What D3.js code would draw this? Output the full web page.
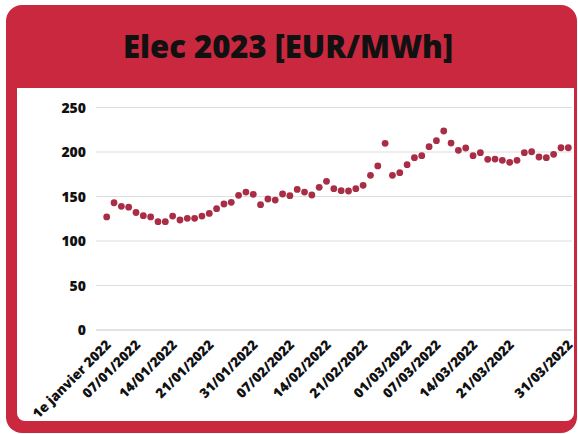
<!DOCTYPE html>
<html><head><meta charset="utf-8">
<script src="https://cdn.jsdelivr.net/npm/d3@7"></script>
<style>
html,body{margin:0;padding:0;background:#fff;}
svg{display:block;}
</style></head>
<body>
<svg id="chart" width="578" height="434"></svg>
<script>
const title = "Elec 2023 [EUR/MWh]";
const dates = [
 "2022-01-03","2022-01-04","2022-01-05","2022-01-06","2022-01-07",
 "2022-01-10","2022-01-11","2022-01-12","2022-01-13","2022-01-14",
 "2022-01-17","2022-01-18","2022-01-19","2022-01-20","2022-01-21",
 "2022-01-24","2022-01-25","2022-01-26","2022-01-27","2022-01-28",
 "2022-01-31","2022-02-01","2022-02-02","2022-02-03","2022-02-04",
 "2022-02-07","2022-02-08","2022-02-09","2022-02-10","2022-02-11",
 "2022-02-14","2022-02-15","2022-02-16","2022-02-17","2022-02-18",
 "2022-02-21","2022-02-22","2022-02-23","2022-02-24","2022-02-25",
 "2022-02-28","2022-03-01","2022-03-02","2022-03-03","2022-03-04",
 "2022-03-07","2022-03-08","2022-03-09","2022-03-10","2022-03-11",
 "2022-03-14","2022-03-15","2022-03-16","2022-03-17","2022-03-18",
 "2022-03-21","2022-03-22","2022-03-23","2022-03-24","2022-03-25",
 "2022-03-28","2022-03-29","2022-03-30","2022-03-31"
];
const prices = [
 127,143,139,138,132,
 128.5,127,121.7,121.7,128,
 123.6,125.5,125.5,128,131,
 136.3,141.6,143.4,151.3,155,
 152.4,140.8,147.2,146,152.8,
 150.9,158,155,151.7,160.3,
 167,158.8,156.6,156.2,158.8,
 162.6,173.8,184.3,209.8,173.8,
 176.8,185.8,193.6,195.9,206,
 212.7,223.6,210,201.9,204.5,
 195.9,199.2,191.8,192.1,190.6,
 188.4,190.6,199.2,200.3,194.4,
 193.6,197.4,204.8,204.8
];
const tickDates = ["2022-01-03","2022-01-07","2022-01-14","2022-01-21","2022-01-31","2022-02-07","2022-02-14","2022-02-21","2022-03-01","2022-03-07","2022-03-14","2022-03-21","2022-03-31"];
const tickLabels = ["1e janvier 2022","07/01/2022","14/01/2022","21/01/2022","31/01/2022","07/02/2022","14/02/2022","21/02/2022","01/03/2022","07/03/2022","14/03/2022","21/03/2022","31/03/2022"];
const yTicks = [0,50,100,150,200,250];

const svg = d3.select("#chart");
const RED = "#c9283f";

// outer red card
svg.append("rect").attr("x",6).attr("y",5).attr("width",571).attr("height",428)
  .attr("rx",16).attr("fill",RED);
// inner white panel
svg.append("rect").attr("x",17).attr("y",88).attr("width",557).attr("height",333)
  .attr("rx",8).attr("fill","#fff");
svg.append("rect").attr("x",17).attr("y",88).attr("width",557).attr("height",20)
  .attr("fill","#fff");

svg.append("text").attr("x",288).attr("y",58).attr("text-anchor","middle")
  .attr("font-family","Open Sans").attr("font-weight",800).attr("font-size",31)
  .attr("fill","#111").text(title);

const x = d3.scalePoint().domain(dates).range([106.7,568.3]);
const y = d3.scaleLinear().domain([0,250]).range([330,107.5]);

// grid
const grid = svg.append("g");
grid.selectAll("line").data(yTicks).join("line")
  .attr("x1",96).attr("x2",572)
  .attr("y1",d=>y(d)).attr("y2",d=>y(d))
  .attr("stroke",d=>d===0?"#c8c8c8":"#dedede").attr("stroke-width",1.2);

// y axis labels
const yAxis = d3.axisLeft(y).tickValues(yTicks).tickSize(0).tickPadding(0);
const gy = svg.append("g").attr("transform","translate(86,0)").call(yAxis);
gy.select(".domain").remove();
gy.selectAll("text").attr("font-family","Open Sans").attr("font-weight",800)
  .attr("font-size",14).attr("fill","#111").attr("dy","0.35em");

// x axis labels
const labelMap = new Map(tickDates.map((d,i)=>[d,tickLabels[i]]));
const xAxis = d3.axisBottom(x).tickValues(tickDates).tickFormat(d=>labelMap.get(d)).tickSize(0).tickPadding(0);
const gx = svg.append("g").attr("transform","translate(0,340)").call(xAxis);
gx.select(".domain").remove();
gx.selectAll("text")
  .attr("font-family","Open Sans").attr("font-weight",800).attr("font-size",13.5).attr("fill","#111")
  .attr("text-anchor","end").attr("dy","0.6em").attr("dx","0")
  .attr("transform","translate(-1,0) rotate(-45)");

// dots
svg.append("g").selectAll("circle").data(dates).join("circle")
  .attr("cx",d=>x(d)).attr("cy",(d,i)=>y(prices[i])).attr("r",3.4)
  .attr("fill","#a92d45");
</script>
</body></html>
